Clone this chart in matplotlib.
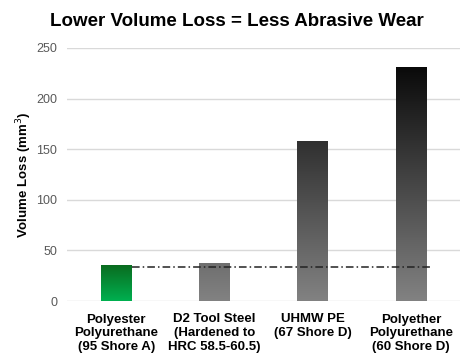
import numpy as np
import matplotlib.pyplot as plt
from matplotlib.colors import LinearSegmentedColormap

plt.rcParams["font.family"] = ["Liberation Sans", "DejaVu Sans"]

# Data
categories = [
    "Polyester\nPolyurethane\n(95 Shore A)",
    "D2 Tool Steel\n(Hardened to\nHRC 58.5-60.5)",
    "UHMW PE\n(67 Shore D)",
    "Polyether\nPolyurethane\n(60 Shore D)",
]
volume_loss = [36, 38, 158, 231]
reference_level = 34

fig = plt.figure(figsize=(4.74, 3.63), dpi=100)
ax = fig.add_axes([67 / 474, 62 / 363, 393 / 474, 253 / 363])

x = np.arange(len(categories))
bars = ax.bar(x, volume_loss, width=0.31, color="none", zorder=3)

# Gradient fills: green for the first bar, dark-to-gray (over the axis) for the rest
green = LinearSegmentedColormap.from_list("g", ["#00b050", "#0a6a1e"])
gray = LinearSegmentedColormap.from_list("k", ["#828282", "#000000"])
grad = np.linspace(0, 1, 256).reshape(-1, 1)
for i, b in enumerate(bars):
    x0, w, h = b.get_x(), b.get_width(), b.get_height()
    if i == 0:
        im = ax.imshow(grad, cmap=green, origin="lower", aspect="auto",
                       extent=[x0, x0 + w, 0, h], zorder=3)
    else:
        im = ax.imshow(grad, cmap=gray, origin="lower", aspect="auto",
                       extent=[x0, x0 + w, 0, 250], zorder=3)
    im.set_clip_path(b)

# Reference dash-dot line
ax.plot([bars[0].get_x() + bars[0].get_width() + 0.01, x[-1] + 0.2],
        [reference_level, reference_level], color="#222222", lw=1.1,
        linestyle=(0, (5, 2, 1, 2)), zorder=4)

ax.set_xlim(-0.5, len(categories) - 0.5)
ax.set_ylim(0, 250)
ax.set_yticks(range(0, 251, 50))
ax.grid(axis="y", color="#d9d9d9", lw=1, zorder=0)
for s in ax.spines.values():
    s.set_visible(False)
ax.tick_params(axis="both", length=0)
ax.tick_params(axis="y", labelsize=9, labelcolor="#595959", pad=7)
ax.set_xticks(x)
ax.set_xticklabels(categories, fontsize=9.5, fontweight="bold", linespacing=1.2)
ax.tick_params(axis="x", pad=9)

ax.set_ylabel("Volume Loss (mm$^3$)", fontsize=9.5, fontweight="bold")
ax.yaxis.set_label_coords(-0.085, 0.5)
fig.text(0.5, 1 - 22 / 363, "Lower Volume Loss = Less Abrasive Wear",
         ha="center", va="center", fontsize=13.5, fontweight="bold")

fig.savefig("out.png", dpi=100)
